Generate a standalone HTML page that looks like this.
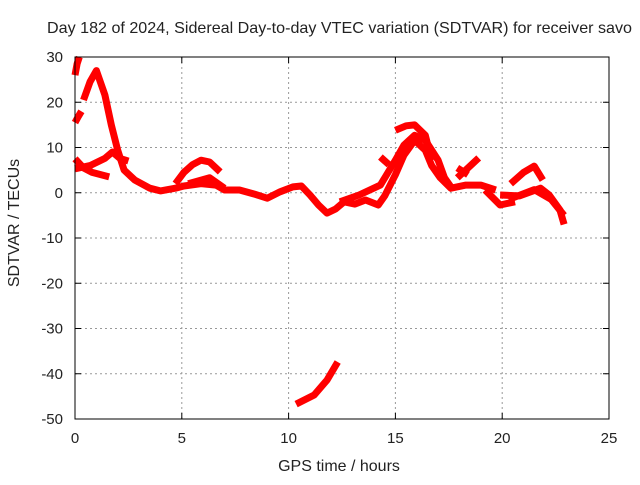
<!DOCTYPE html>
<html><head><meta charset="utf-8"><style>
body{margin:0;background:#fff}
text{font-family:"Liberation Sans",sans-serif;fill:#222}
</style></head><body>
<svg id="chart" width="640" height="480" xmlns="http://www.w3.org/2000/svg">
<text x="47" y="33" style="font-size:16px" textLength="585" lengthAdjust="spacingAndGlyphs">Day 182 of 2024, Sidereal Day-to-day VTEC variation (SDTVAR) for receiver savo</text>
<text x="339" y="471" text-anchor="middle" style="font-size:16px">GPS time / hours</text>
<text transform="translate(19,223) rotate(-90)" text-anchor="middle" style="font-size:16px">SDTVAR / TECUs</text>
<g id="grid"></g><g id="ticks"></g><g id="series"></g>
<rect x="75" y="57" width="534" height="362" fill="none" stroke="#000" stroke-width="1"/>
</svg>
<script>
const xTicks=[0,5,10,15,20,25];
const yTicks=[30,20,10,0,-10,-20,-30,-40,-50];
const s1h=[0,0.1,0.2];const s1v=[26,28.5,30];
const s2h=[0,0.15,0.3];const s2v=[15.5,16.8,18];
const s3h=[0.4,0.7,1.0,1.4,1.7,2.0,2.3,2.8,3.5,4,4.7,5.1,5.9,6.6,7,7.7,8.4,9,9.6,10.2,10.6,11,11.4,11.8,12.2,12.6,13.1,13.6,14.2,14.5,15,15.4,15.9,16.4,16.7,17.1,17.6,18.3,19,19.7];
const s3v=[20.5,24.5,27,21.6,15,9.4,5,2.8,1,0.4,1,1.5,2,1.7,0.6,0.6,-0.3,-1.2,0.2,1.3,1.5,-0.5,-2.7,-4.5,-3.6,-2,-2.5,-1.6,-2.7,-0.7,4,8.3,11.6,9.4,6,3.3,1,1.7,1.7,0.6];
const s4h=[0,0.7,1.4,1.75,2.1,2.5];const s4v=[5.3,6,7.6,9,7.6,7];
const s5h=[0,0.4,0.8,1.6];const s5v=[7.5,5.5,4.5,3.5];
const s6h=[4.7,5.1,5.5,5.9,6.3,6.8];const s6v=[2,4.5,6.2,7.2,6.8,4.6];
const s7h=[5.3,6.3,7];const s7v=[2,3.3,1];
const s8h=[12.4,13.3,14.3,15,15.4,15.9,16.4,17,17.3,17.7];const s8v=[-2,-0.5,1.7,7.2,10.5,12.7,11.6,7.2,3.3,0.6];
const s9h=[15,15.5,15.9,16.4,16.7];const s9v=[13.8,14.8,15,12.7,7.2];
const s10h=[14.3,14.7];const s10v=[7.9,6.2];
const s11h=[17.9,18.4,18.9];const s11v=[3.3,5.5,7.7];
const s12h=[17.9,18.4];const s12v=[5.5,4];
const s13h=[20.4,21,21.5,21.9];const s13v=[2,4.5,5.9,2.8];
const s14h=[19.9,20.8,21.8,22.2,22.7,22.9];const s14v=[-0.5,-0.7,1,-0.5,-3.8,-7];
const s15h=[20.3,21.5,22.3,22.9];const s15v=[-1.5,0.7,-1.5,-5];
const s16h=[19.2,19.9,20.6];const s16v=[0.6,-2.7,-2];
const s17h=[10.35,11.2,11.8,12.3];const s17v=[-46.7,-44.7,-41.4,-37.4];
const seriesH=[s1h,s2h,s3h,s4h,s5h,s6h,s7h,s8h,s9h,s10h,s11h,s12h,s13h,s14h,s15h,s16h,s17h];
const seriesV=[s1v,s2v,s3v,s4v,s5v,s6v,s7v,s8v,s9v,s10v,s11v,s12v,s13v,s14v,s15v,s16v,s17v];
const NS="http://www.w3.org/2000/svg";
const X=h=>75+h*534/25, Y=v=>57+(30-v)*362/80;
const grid=document.getElementById('grid'),ticks=document.getElementById('ticks'),ser=document.getElementById('series');
function mk(tag,attrs,parent){const e=document.createElementNS(NS,tag);for(const k in attrs)e.setAttribute(k,attrs[k]);parent.appendChild(e);return e;}
xTicks.forEach(t=>{
 if(t>0&&t<25){const g=mk('line',{x1:X(t),x2:X(t),y1:57,y2:419,stroke:'#999','stroke-dasharray':'2,3'},grid);
 
 }
 const l=mk('text',{x:X(t),y:443,'text-anchor':'middle',style:'font-size:15px'},ticks);l.textContent=t;
 
 
 mk('line',{x1:X(t),x2:X(t),y1:419,y2:413,stroke:'#000'},ticks);
 mk('line',{x1:X(t),x2:X(t),y1:57,y2:63,stroke:'#000'},ticks);
});
yTicks.forEach(t=>{
 if(t>-50&&t<30){const g=mk('line',{x1:75,x2:609,y1:Y(t),y2:Y(t),stroke:'#999','stroke-dasharray':'2,3'},grid);
 
 }
 const l=mk('text',{x:63,y:Y(t)+5,'text-anchor':'end',style:'font-size:15px'},ticks);l.textContent=t;
 
 
 mk('line',{x1:75,x2:81,y1:Y(t),y2:Y(t),stroke:'#000'},ticks);
 mk('line',{x1:609,x2:603,y1:Y(t),y2:Y(t),stroke:'#000'},ticks);
});
seriesH.forEach((hs,i)=>{
 const vs=seriesV[i];
 const pts=hs.map((h,j)=>X(h).toFixed(1)+','+Y(vs[j]).toFixed(1)).join(' ');
 const p=mk('polyline',{points:pts,fill:'none',stroke:'#f00','stroke-width':7,'stroke-linejoin':'round','stroke-linecap':'butt'},ser);
 
 
});
</script>
</body></html>
